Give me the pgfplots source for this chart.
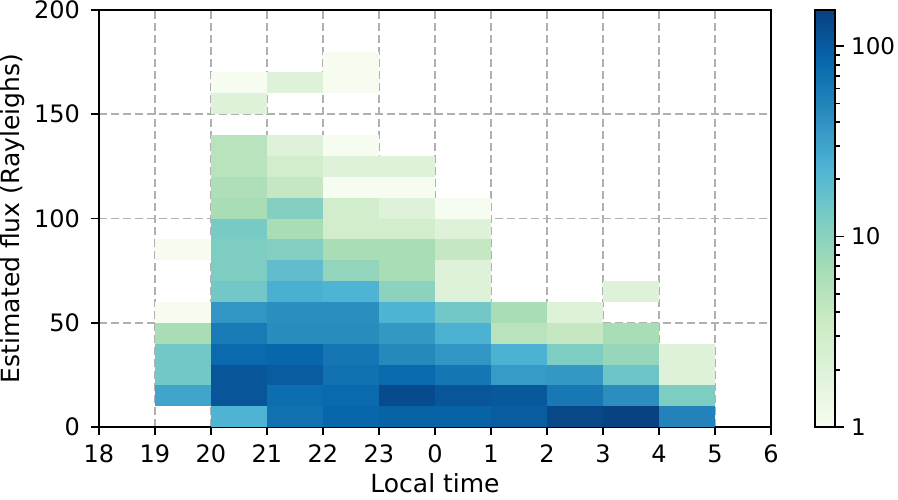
\documentclass[border=0pt]{standalone}
\usepackage{fontspec}
\setmainfont{DejaVu Sans}
\usepackage{pgfplots}
\pgfplotsset{compat=1.18}
\usepackage{pgfplotstable}
\definecolor{gridgray}{HTML}{B0B0B0}
\pgfdeclareplotmark{cell}{%
  \pgfpathrectangle{\pgfqpoint{-14.05pt}{-5.24pt}}{\pgfqpoint{28.1pt}{10.48pt}}%
  \pgfusepathqfill}
\pgfplotstableread{
x y v
1.5 15 30
1.5 25 14
1.5 35 14
1.5 45 6.5
1.5 55 1
1.5 85 1
2.5 5 23
2.5 15 110
2.5 25 110
2.5 35 80
2.5 45 60
2.5 55 38
2.5 65 14
2.5 75 12
2.5 85 12
2.5 95 13
2.5 105 6.5
2.5 115 6
2.5 125 5
2.5 135 5
2.5 155 2
2.5 165 1
3.5 5 70
3.5 15 75
3.5 25 100
3.5 35 85
3.5 45 45
3.5 55 43
3.5 65 25
3.5 75 18
3.5 85 11
3.5 95 6.5
3.5 105 11
3.5 115 4
3.5 125 3
3.5 135 2
3.5 165 2
4.5 5 85
4.5 15 80
4.5 25 70
4.5 35 65
4.5 45 45
4.5 55 43
4.5 65 23
4.5 75 9
4.5 85 6.5
4.5 95 3
4.5 105 3
4.5 115 1
4.5 125 2
4.5 135 1
4.5 165 1
4.5 175 1
5.5 5 90
5.5 15 130
5.5 25 80
5.5 35 47
5.5 45 37
5.5 55 23
5.5 65 10
5.5 75 6.5
5.5 85 6.5
5.5 95 3
5.5 105 2
5.5 115 1
5.5 125 2
6.5 5 90
6.5 15 110
6.5 25 65
6.5 35 38
6.5 45 24
6.5 55 14
6.5 65 2
6.5 75 2
6.5 85 4
6.5 95 2
6.5 105 1
7.5 5 100
7.5 15 105
7.5 25 35
7.5 35 24
7.5 45 5
7.5 55 6.5
8.5 5 140
8.5 15 62
8.5 25 37
8.5 35 12
8.5 45 4
8.5 55 2
9.5 5 150
9.5 15 43
9.5 25 15
9.5 35 8.5
9.5 45 6.5
9.5 65 2
10.5 5 52
10.5 15 12
10.5 25 2
10.5 35 2
}\flux
\begin{document}
\begin{tikzpicture}
\begin{axis}[
  name=main,
  scale only axis,
  width=336pt, height=208.5pt,
  xmin=0, xmax=12, ymin=0, ymax=200,
  xtick={0,...,12},
  xticklabels={18,19,20,21,22,23,0,1,2,3,4,5,6},
  ytick={0,50,100,150,200},
  tick pos=left,
  tick align=outside,
  major tick length=4pt,
  axis line style={line width=0.9pt},
  every tick/.style={line width=0.9pt, black},
  grid=major,
  major grid style={gridgray, line width=0.8pt, dash pattern=on 4pt off 2pt},
  axis on top,
  /pgf/number format/assume math mode=true,
  tick label style={font=\fontsize{12}{14}\selectfont},
  xticklabel style={yshift=-1.5pt},
  yticklabel style={xshift=-2pt},
  label style={font=\fontsize{12.5}{14}\selectfont},
  xlabel={Local time},
  ylabel={Estimated flux (Rayleighs)},
  xlabel style={yshift=1.5pt},
  ylabel style={yshift=-2pt},
  colormap={gnbu}{rgb255=(247,252,240) rgb255=(224,243,219) rgb255=(204,235,197) rgb255=(168,221,181) rgb255=(123,204,196) rgb255=(78,179,211) rgb255=(43,140,190) rgb255=(8,104,172) rgb255=(8,64,129)},
  point meta min=0, point meta max=2.19,
  colorbar,
  colorbar style={
    at={(parent axis.north east)}, anchor=north west, xshift=13.5pt,
    scale only axis, width=10pt, height=208.5pt,
    ytick={0,1,2}, yticklabels={1,10,100},
    minor ytick={0.30103,0.47712,0.60206,0.69897,0.77815,0.84510,0.90309,0.95424,1.30103,1.47712,1.60206,1.69897,1.77815,1.84510,1.90309,1.95424},
    ytick pos=right, yticklabel pos=right,
    tick align=outside,
    major tick length=4.5pt, minor tick length=2.5pt,
    axis line style={line width=0.9pt},
    every tick/.style={line width=0.9pt, black},
    tick label style={font=\fontsize{11.5}{13}\selectfont},
    yticklabel style={xshift=0pt},
    /pgf/number format/assume math mode=true,
  },
]
\addplot[scatter, only marks, mark=cell, scatter src=explicit,
  scatter/use mapped color={draw=none, fill=mapped color}]
  table[x=x, y=y, meta expr={log10(\thisrow{v})}] {\flux};
\end{axis}
\pgfresetboundingbox
\path ([shift={(-49.5pt,-36pt)}]main.south west) rectangle ([shift={(63.5pt,5pt)}]main.north east);
\end{tikzpicture}
\end{document}
